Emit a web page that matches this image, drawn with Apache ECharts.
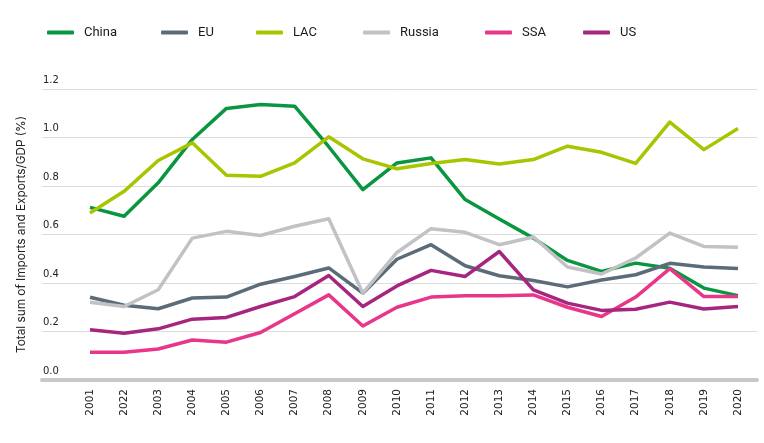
<!DOCTYPE html>
<html><head><meta charset="utf-8">
<script src="https://cdn.jsdelivr.net/npm/echarts@6/dist/echarts.min.js"></script>
<style>html,body{margin:0;padding:0;background:#fff}#c{width:764px;height:443px}</style>
</head><body><div id="c"></div>
<script>
const years = ['2001','2022','2003','2004','2005','2006','2007','2008','2009','2010','2011','2012','2013','2014','2015','2016','2017','2018','2019','2020'];
const china  = [0.712,0.675,0.813,0.992,1.120,1.136,1.129,0.962,0.785,0.895,0.916,0.744,0.664,0.585,0.493,0.448,0.482,0.461,0.379,0.348];
const eu     = [0.341,0.308,0.294,0.338,0.342,0.395,0.427,0.462,0.358,0.498,0.558,0.471,0.430,0.410,0.384,0.412,0.434,0.481,0.466,0.460];
const lac    = [0.689,0.778,0.905,0.978,0.844,0.840,0.895,1.003,0.912,0.871,0.893,0.909,0.891,0.909,0.964,0.939,0.893,1.063,0.950,1.037];
const russia = [0.321,0.303,0.372,0.585,0.613,0.596,0.634,0.665,0.358,0.526,0.624,0.609,0.558,0.590,0.466,0.437,0.503,0.606,0.551,0.547];
const ssa    = [0.114,0.114,0.128,0.165,0.156,0.196,0.273,0.351,0.223,0.300,0.342,0.347,0.347,0.351,0.300,0.262,0.342,0.459,0.344,0.344];
const us     = [0.207,0.193,0.211,0.251,0.258,0.303,0.344,0.431,0.303,0.388,0.452,0.427,0.530,0.372,0.317,0.287,0.292,0.321,0.293,0.303];
const yTicks = [0, 0.2, 0.4, 0.6, 0.8, 1.0, 1.2];

const names = ['China','EU','LAC','Russia','SSA','US'];
const colors = ['#0a9640','#5c6b78','#a9c400','#c2c2c6','#e8368a','#a6267f'];
const datas = [china, eu, lac, russia, ssa, us];
const legendLeft = [47,161,256,363,485,583];
const lfont = 'Roboto, sans-serif';
const afont = '"DejaVu Sans", sans-serif';
const tfont = 'Inter, "Noto Sans", sans-serif';

const chart = echarts.init(document.getElementById('c'));
chart.setOption({
  animation:false,
  color: colors,
  legend: names.map((n,i)=>({
    data:[n], left: legendLeft[i], top: 26, padding:0, icon:'roundRect', itemWidth:27, itemHeight:4,
    textStyle:{fontFamily:lfont,fontSize:13,color:'#1a1a1a',padding:[0,0,0,5]}
  })),
  grid:[
    {left:42,right:7,top:89,bottom:63},
    {left:90,right:26,top:89,bottom:63}
  ],
  xAxis:[
    {gridIndex:0,type:'category',data:years,show:true,
     axisLine:{show:true,lineStyle:{color:'#c8c8cc',width:4}},
     axisTick:{show:false},axisLabel:{show:false},splitLine:{show:false}},
    {gridIndex:1,type:'category',data:years,boundaryGap:false,
     axisLine:{show:false},axisTick:{show:false},splitLine:{show:false},
     axisLabel:{rotate:90,margin:9,fontFamily:afont,fontSize:10.5,color:'#222',interval:0}}
  ],
  yAxis:[
    {gridIndex:0,type:'value',min:0,max:1.2,interval:0.2,
     name:'Total sum of Imports and Exports/GDP (%)',nameLocation:'middle',nameGap:15,
     nameTextStyle:{fontFamily:tfont,fontSize:11.8,color:'#222'},
     axisLine:{show:false},axisTick:{show:false},
     splitLine:{show:true,lineStyle:{color:'#dcdcdc',width:1}},
     axisLabel:{inside:true,margin:1,align:'left',verticalAlign:'bottom',padding:[0,0,4,0],
       fontFamily:afont,fontSize:10,color:'#222',formatter:v=>v.toFixed(1)}},
    {gridIndex:1,type:'value',min:0,max:1.2,interval:0.2,show:false}
  ],
  series: names.map((n,i)=>({
    name:n,type:'line',xAxisIndex:1,yAxisIndex:1,data:datas[i],
    showSymbol:false,symbol:'none',
    lineStyle:{width:3.5,color:colors[i],join:'round'},
    itemStyle:{color:colors[i]}
  }))
});
</script></body></html>
